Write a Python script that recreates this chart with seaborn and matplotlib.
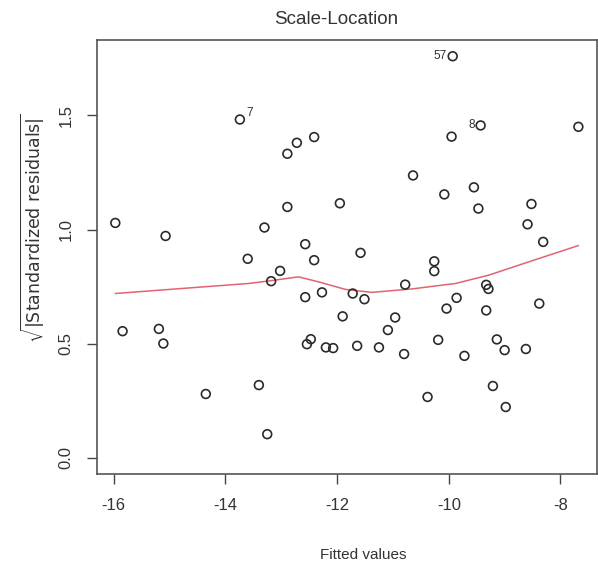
import matplotlib
matplotlib.use("Agg")
import matplotlib.pyplot as plt
import seaborn as sns
import pandas as pd

# Fitted values and sqrt(|standardized residuals|) of the model
fitted = [-15.97, -15.07, -13.74, -12.89, -12.72, -12.41, -12.89, -11.95, -13.30, -12.57,
          -13.60, -12.41, -13.02, -13.18, -12.57, -12.27, -11.90, -15.84, -15.19, -15.11,
          -12.54, -12.47, -12.20, -12.07, -13.40, -14.35, -13.25, -9.93, -9.43, -9.95,
          -7.68, -10.64, -10.08, -9.55, -9.47, -8.52, -8.59, -8.31, -11.58, -10.26,
          -10.26, -10.78, -9.33, -9.29, -11.72, -11.51, -9.86, -10.04, -8.38, -9.33,
          -10.96, -11.09, -11.64, -11.25, -10.80, -10.19, -9.72, -9.14, -9.00, -8.62,
          -9.21, -10.38, -8.98]
sqrt_std_resid = [1.029, 0.972, 1.482, 1.332, 1.380, 1.405, 1.099, 1.115, 1.009, 0.936,
                  0.872, 0.866, 0.819, 0.774, 0.704, 0.725, 0.620, 0.555, 0.565, 0.501,
                  0.498, 0.520, 0.484, 0.481, 0.319, 0.280, 0.104, 1.759, 1.456, 1.407,
                  1.450, 1.237, 1.154, 1.185, 1.092, 1.112, 1.023, 0.946, 0.898, 0.861,
                  0.818, 0.759, 0.758, 0.740, 0.720, 0.695, 0.701, 0.654, 0.676, 0.646,
                  0.615, 0.560, 0.491, 0.484, 0.455, 0.517, 0.447, 0.519, 0.472, 0.477,
                  0.315, 0.267, 0.223]

# Observations flagged with their index
flag_names = ["7", "57", "8"]
flag_x = [-13.74, -9.93, -9.43]
flag_y = [1.482, 1.759, 1.456]

# Smoothed trend through the points
smooth_x = [-15.97, -14.78, -13.58, -13.22, -12.69, -12.33, -11.85, -11.38, -10.66,
            -9.88, -9.29, -8.39, -7.68]
smooth_y = [0.720, 0.742, 0.764, 0.775, 0.793, 0.771, 0.738, 0.725, 0.740,
            0.764, 0.800, 0.873, 0.930]

x_ticks = [-16, -14, -12, -10, -8]
y_ticks = [0.0, 0.5, 1.0, 1.5]

sns.set_theme(style="white")
plt.rcParams["font.family"] = ["Liberation Sans", "DejaVu Sans"]

points = pd.DataFrame({"fitted": fitted, "resid": sqrt_std_resid})
trend = pd.DataFrame({"fitted": smooth_x, "resid": smooth_y})

fig = plt.figure(figsize=(5.98, 5.67), dpi=100)
ax = fig.add_axes([0.162, 0.164, 0.836, 0.765])

sns.scatterplot(data=points, x="fitted", y="resid", ax=ax, marker="o",
                s=40, facecolor="none", edgecolor="#2a2a2a", linewidth=1.2, zorder=3)
sns.lineplot(data=trend, x="fitted", y="resid", ax=ax, sort=False, estimator=None,
             color="#e2636f", linewidth=1.1, zorder=2)

for name, fx, fy in zip(flag_names, flag_x, flag_y):
    if name == "7":
        ax.text(fx + 0.12, fy, name, fontsize=8.5, color="#333333", ha="left", va="bottom")
    else:
        ax.text(fx - 0.1, fy, name, fontsize=8.5, color="#333333", ha="right", va="center")

ax.set_xlim(-16.30, -7.35)
ax.set_ylim(-0.0704, 1.829)
ax.set_xticks(x_ticks)
ax.set_xticklabels([f"{t:d}" for t in x_ticks])
ax.set_yticks(y_ticks)
ax.set_yticklabels([f"{t:.1f}" for t in y_ticks], rotation=90, va="center")
ax.tick_params(axis="both", which="both", direction="out", length=7, width=1,
               color="#444444", labelsize=12, labelcolor="#333333", pad=10,
               bottom=True, left=True)
for spine in ax.spines.values():
    spine.set_visible(True)
    spine.set_color("#555555")
    spine.set_linewidth(1.2)

ax.set_xlabel("Fitted values", fontsize=11, color="#333333")
ax.xaxis.set_label_coords(0.532, -0.17)
ax.set_ylabel(r"$\sqrt{|\mathrm{Standardized\ residuals}|}$", fontsize=12.5,
              color="#333333")
ax.yaxis.set_label_coords(-0.10, 0.567)
fig.text(336 / 598, 1 - 20 / 567, "Scale-Location", ha="center", va="center",
         fontsize=13.5, color="#333333")

fig.savefig("out.png", dpi=100)
